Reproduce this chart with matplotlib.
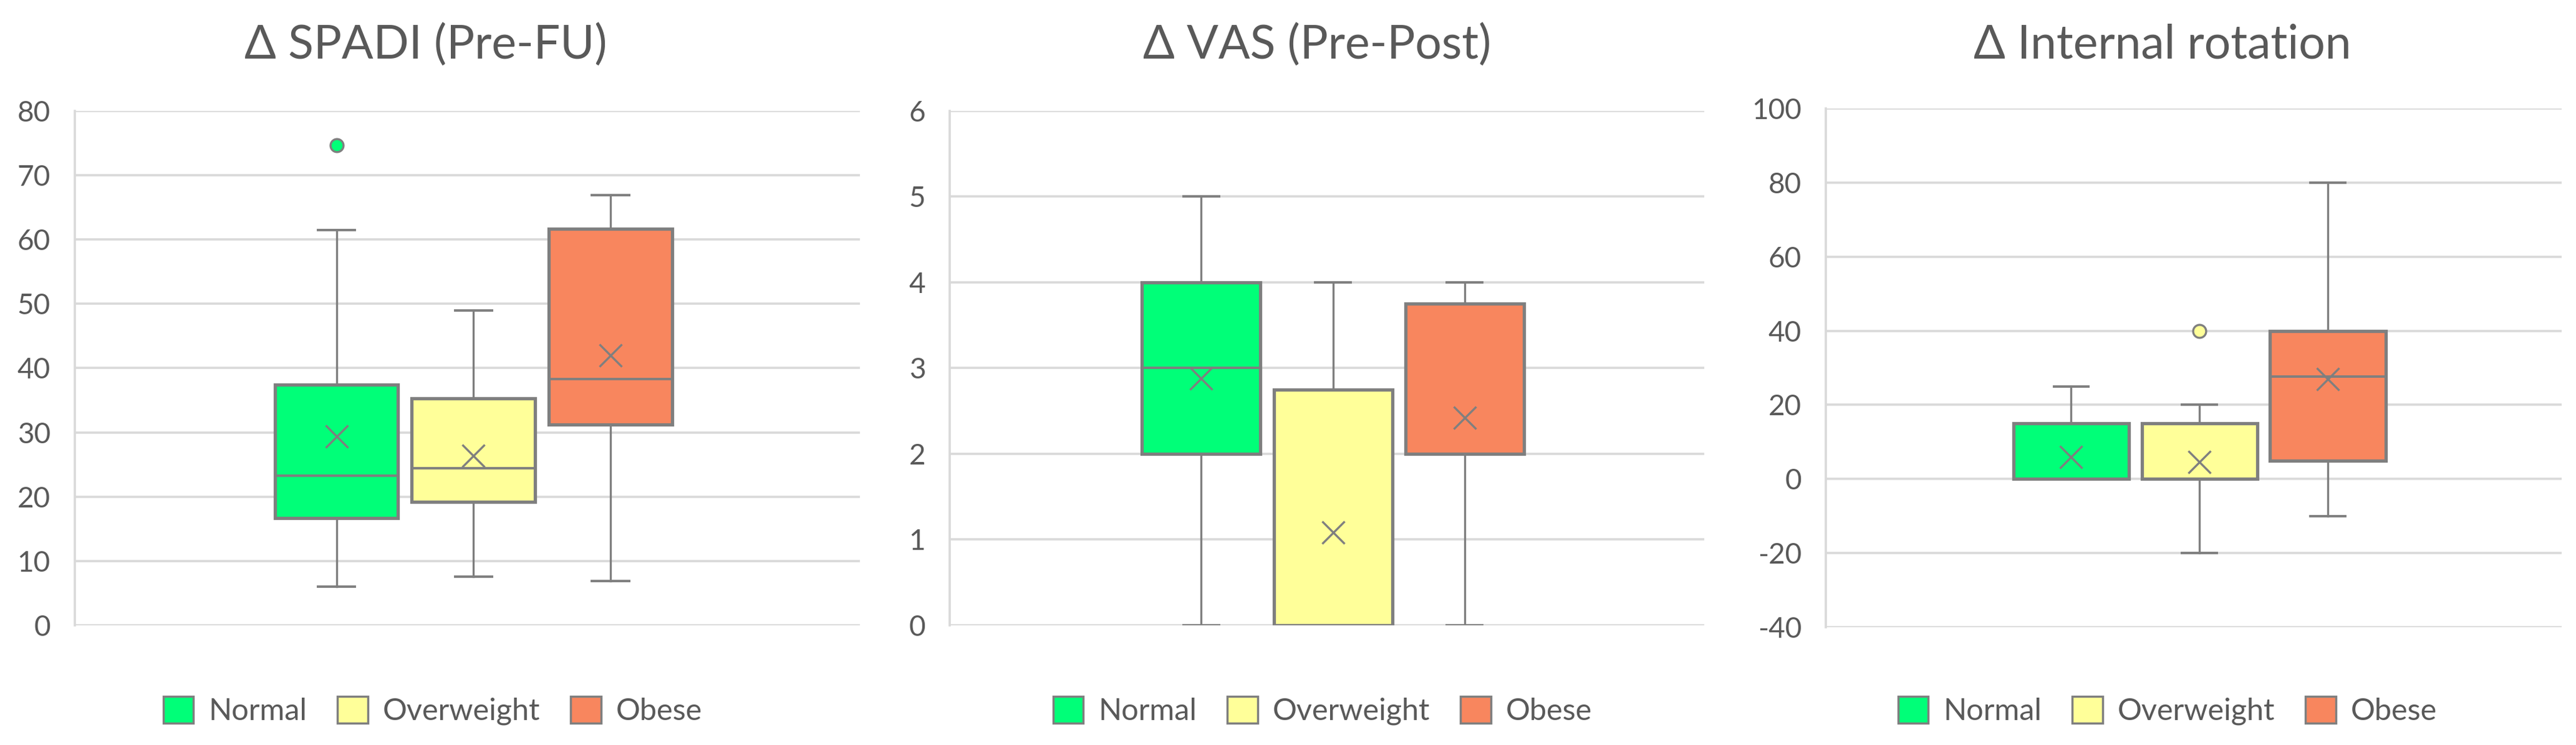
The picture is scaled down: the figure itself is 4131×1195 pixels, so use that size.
import matplotlib
matplotlib.use("Agg")
import matplotlib.pyplot as plt
from matplotlib.patches import Patch

plt.rcParams['font.family'] = ['Lato', 'DejaVu Sans']
plt.rcParams['axes.unicode_minus'] = False

groups = ["Normal", "Overweight", "Obese"]
colors = ["#00FF78", "#FFFF99", "#F8865E"]
edge = "#7F7F7F"
text_col = "#595959"
grid_col = "#D9D9D9"

# each panel: whisker low, Q1, median, Q3, whisker high, mean, outliers
spadi_low = [6.0, 7.6, 6.9]
spadi_q1 = [16.7, 19.2, 31.2]
spadi_med = [23.3, 24.4, 38.3]
spadi_q3 = [37.4, 35.3, 61.7]
spadi_high = [61.5, 49.0, 66.9]
spadi_mean = [29.4, 26.4, 42.0]
spadi_out = [[74.7], [], []]

vas_low = [0, 0, 0]
vas_q1 = [2.0, 0, 2.0]
vas_med = [3.0, 0, 2.0]
vas_q3 = [4.0, 2.75, 3.75]
vas_high = [5.0, 4.0, 4.0]
vas_mean = [2.88, 1.08, 2.42]
vas_out = [[], [], []]

ir_low = [0, -20, -10]
ir_q1 = [0, 0, 5]
ir_med = [0, 0, 27.7]
ir_q3 = [15, 15, 40]
ir_high = [25, 20, 80]
ir_mean = [6, 4.6, 27]
ir_out = [[], [40], []]

panels = [
    ("\u0394 SPADI (Pre-FU)", spadi_low, spadi_q1, spadi_med, spadi_q3, spadi_high, spadi_mean, spadi_out,
     (0, 80), range(0, 81, 10)),
    ("\u0394 VAS (Pre-Post)", vas_low, vas_q1, vas_med, vas_q3, vas_high, vas_mean, vas_out,
     (0, 6), range(0, 7, 1)),
    ("\u0394 Internal rotation", ir_low, ir_q1, ir_med, ir_q3, ir_high, ir_mean, ir_out,
     (-40, 100), range(-40, 101, 20)),
]

# axes rectangles, title x and legend x (figure fractions)
rects = [
    [0.0290, 0.1607, 0.3048, 0.6904],
    [0.3687, 0.1607, 0.2929, 0.6904],
    [0.7088, 0.1582, 0.2856, 0.6962],
]
title_x = [683 / 4131, 2112 / 4131, 3468 / 4131]
legend_x = [694 / 4131, 2121 / 4131, 3476 / 4131]

fig = plt.figure(figsize=(41.31, 11.95), dpi=100)

for i, (title, lo, q1, med, q3, hi, mean, out, ylim, ticks) in enumerate(panels):
    ax = fig.add_axes(rects[i])
    stats = []
    for j in range(3):
        stats.append(dict(whislo=lo[j], q1=q1[j], med=med[j], q3=q3[j], whishi=hi[j],
                          mean=mean[j], fliers=out[j], label=groups[j]))
    res = ax.bxp(stats, positions=[1, 2, 3], widths=0.9, capwidths=0.27,
                 patch_artist=True, showmeans=True, showfliers=True,
                 boxprops=dict(edgecolor=edge, linewidth=3.8),
                 medianprops=dict(color=edge, linewidth=2.8),
                 whiskerprops=dict(color=edge, linewidth=2.4),
                 capprops=dict(color=edge, linewidth=2.8),
                 meanprops=dict(marker='x', markersize=26, markeredgewidth=2.4,
                                markeredgecolor=edge, linestyle='none'),
                 flierprops=dict(marker='o', markersize=15, markeredgewidth=2.4,
                                 markeredgecolor=edge))
    for j, box in enumerate(res['boxes']):
        box.set_facecolor(colors[j])
        res['fliers'][j].set_markerfacecolor(colors[j])

    ax.set_xlim(-0.91, 4.82)
    ax.set_ylim(*ylim)
    ax.set_yticks(list(ticks))
    ax.set_xticks([])
    ax.yaxis.grid(True, color=grid_col, linewidth=2.6)
    ax.set_axisbelow(True)
    for s in ['top', 'right', 'bottom']:
        ax.spines[s].set_visible(False)
    ax.spines['left'].set_color(grid_col)
    ax.spines['left'].set_linewidth(2.6)
    ax.tick_params(axis='y', length=0, pad=28, labelsize=33, labelcolor=text_col)
    ax.patch.set_visible(False)

    fig.text(title_x[i], 1 - 72 / 1195, title, ha='center', va='center',
             fontsize=54, color=text_col)

    handles = [Patch(facecolor=colors[j], edgecolor=edge, linewidth=2.5, label=groups[j])
               for j in range(3)]
    fig.legend(handles=handles, loc='center', bbox_to_anchor=(legend_x[i], 1 - 1140 / 1195),
               ncol=3, frameon=False, fontsize=35, handlelength=1.0, handleheight=1.0,
               handletextpad=0.5, columnspacing=1.0, labelcolor=text_col)

fig.savefig("out.png", dpi=100, facecolor='white')
